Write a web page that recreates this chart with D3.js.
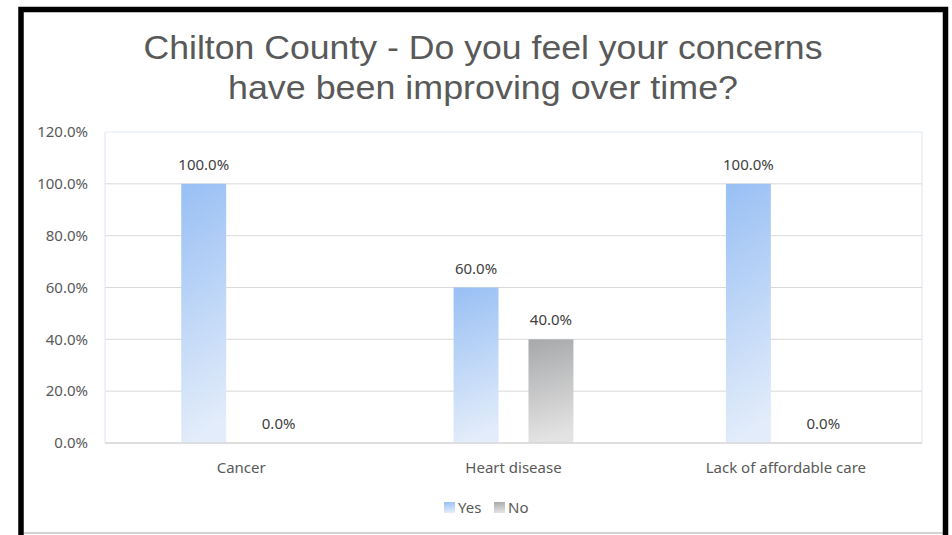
<!DOCTYPE html>
<html>
<head>
<meta charset="utf-8">
<script src="https://cdn.jsdelivr.net/npm/d3@7"></script>
<style>
  body { margin: 0; background: #fff; }
  text { font-family: "Noto Sans", "Open Sans", sans-serif; }
</style>
</head>
<body>
<script>
const categories = ['Cancer', 'Heart disease', 'Lack of affordable care'];
const seriesNames = ['Yes', 'No'];
const yesValues = [1.0, 0.6, 1.0];
const noValues = [0.0, 0.4, 0.0];
const yTicks = [0, 0.2, 0.4, 0.6, 0.8, 1.0, 1.2];
const titleLines = ['Chilton County - Do you feel your concerns', 'have been improving over time?'];

const w = 952;
const h = 535;
const svg = d3.select('body').append('svg').attr('width', w).attr('height', h);

// gradients for the bars and legend
const defs = svg.append('defs');
const grads = { Yes: ['#98bff4', '#e2ecfa'], No: ['#a7a8aa', '#e3e3e3'] };
seriesNames.forEach((s) => {
  const g = defs.append('linearGradient').attr('id', 'g' + s)
    .attr('x1', '0%').attr('y1', '0%').attr('x2', '12%').attr('y2', '100%');
  g.append('stop').attr('offset', '0%').attr('stop-color', grads[s][0]);
  g.append('stop').attr('offset', '100%').attr('stop-color', grads[s][1]);
});

// frame
svg.append('line').attr('x1', 24).attr('x2', 943).attr('y1', 533).attr('y2', 533)
  .attr('stroke', '#c4c4c4').attr('stroke-width', 1.5);
svg.append('path').attr('d', 'M21,535 V9.5 H945.5 V535')
  .attr('fill', 'none').attr('stroke', '#000').attr('stroke-width', 5.5);

// title
svg.selectAll('.title').data(titleLines).enter().append('text')
  .attr('class', 'title')
  .attr('x', 483)
  .attr('y', (d, i) => 59 + i * 40)
  .attr('text-anchor', 'middle')
  .attr('font-size', 33)
  .attr('fill', '#595959')
  .style('font-family', '"Liberation Sans", Arial, sans-serif')
  .attr('textLength', (d, i) => (i === 0 ? 679 : 510))
  .attr('lengthAdjust', 'spacingAndGlyphs')
  .text((d) => d);

const plotL = 105, plotR = 922, plotT = 132, plotB = 443;

const x0 = d3.scaleBand().domain(categories).range([plotL, plotR]).padding(0);
const x1 = d3.scaleBand().domain(seriesNames)
  .range([x0.bandwidth() * 0.28, x0.bandwidth() * 0.72])
  .paddingInner(0.4);
const y = d3.scaleLinear().domain([0, 1.2]).range([plotB, plotT]);

// gridlines
svg.append('g').selectAll('line').data(yTicks).enter().append('line')
  .attr('x1', plotL).attr('x2', plotR)
  .attr('y1', (d) => y(d)).attr('y2', (d) => y(d))
  .attr('stroke', (d) => (d === 1.2 ? '#e3eaf4' : '#d9d9d9'))
  .attr('stroke-width', 1);

// plot area side borders
svg.append('line').attr('x1', plotL).attr('x2', plotL).attr('y1', plotT).attr('y2', plotB)
  .attr('stroke', '#dce6f4');
svg.append('line').attr('x1', plotR).attr('x2', plotR).attr('y1', plotT).attr('y2', plotB)
  .attr('stroke', '#dce6f4');

// y axis
const yAxis = d3.axisLeft(y).tickValues(yTicks).tickSize(0).tickPadding(17)
  .tickFormat(d3.format('.1%'));
const ya = svg.append('g').attr('transform', `translate(${plotL},0)`).call(yAxis);
ya.select('.domain').remove();
ya.selectAll('text').attr('font-size', 15).attr('fill', '#595959')
  .style('font-family', '"Noto Sans", sans-serif');

// x axis
const xAxis = d3.axisBottom(x0).tickSize(0).tickPadding(19);
const xa = svg.append('g').attr('transform', `translate(0,${plotB})`).call(xAxis);
xa.select('.domain').remove();
xa.selectAll('text').attr('font-size', 15).attr('fill', '#595959')
  .style('font-family', '"Noto Sans", sans-serif');

// bars
const rows = categories.map((c, i) => ({ cat: c, Yes: yesValues[i], No: noValues[i] }));
const groups = svg.append('g').selectAll('g').data(rows).enter().append('g')
  .attr('transform', (d) => `translate(${x0(d.cat)},0)`);

groups.selectAll('rect').data((d) => seriesNames.map((s) => ({ key: s, value: d[s] })))
  .enter().append('rect')
  .attr('x', (d) => x1(d.key))
  .attr('width', x1.bandwidth())
  .attr('y', (d) => y(d.value))
  .attr('height', (d) => y(0) - y(d.value))
  .attr('fill', (d) => `url(#g${d.key})`);

groups.selectAll('text.lbl').data((d) => seriesNames.map((s) => ({ key: s, value: d[s] })))
  .enter().append('text')
  .attr('class', 'lbl')
  .attr('x', (d) => x1(d.key) + x1.bandwidth() / 2)
  .attr('y', (d) => y(d.value) - 14)
  .attr('text-anchor', 'middle')
  .attr('font-size', 15)
  .attr('fill', '#404040')
  .text((d) => d3.format('.1%')(d.value));

// baseline
svg.append('line').attr('x1', plotL).attr('x2', plotR).attr('y1', plotB).attr('y2', plotB)
  .attr('stroke', '#d0d0d0').attr('stroke-width', 1.2);

// legend
const legendX = [444, 494];
const lg = svg.append('g').selectAll('g').data(seriesNames).enter().append('g')
  .attr('transform', (d, i) => `translate(${legendX[i]},502)`);
lg.append('rect').attr('width', 11).attr('height', 11)
  .attr('fill', (d) => `url(#g${d})`);
lg.append('text').attr('x', 14).attr('y', 11).attr('font-size', 15)
  .attr('fill', '#595959').text((d) => d);
</script>
</body>
</html>
